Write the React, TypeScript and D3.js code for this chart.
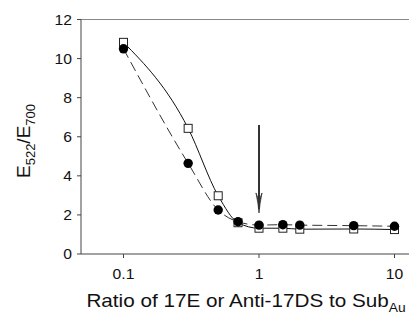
import React from "react";
import * as d3 from "d3";

const xValues = [0.1, 0.3, 0.5, 0.7, 1, 1.5, 2, 5, 10];
const squareValues = [10.83, 6.43, 2.98, 1.6, 1.32, 1.32, 1.27, 1.28, 1.25];
const circleValues = [10.5, 4.64, 2.25, 1.65, 1.48, 1.5, 1.48, 1.45, 1.42];
const xTicks = [0.1, 1, 10];
const xTickLabels = ["0.1", "1", "10"];
const yTicks = [0, 2, 4, 6, 8, 10, 12];
const arrowX = 1;
const arrowFromY = 6.6;
const arrowToY = 2.1;

const W = 409;
const H = 320;
const axisLeft = 81;
const axisRight = 409;

export default function App() {
  const x = d3.scaleLog().domain([0.1, 10]).range([123.5, 394.5]);
  const y = d3.scaleLinear().domain([0, 12]).range([254, 19.5]);
  const font = "'Liberation Sans', Arial, sans-serif";

  const sqPts: [number, number][] = xValues.map((v, i) => [x(v), y(squareValues[i])]);
  const ciPts: [number, number][] = xValues.map((v, i) => [x(v), y(circleValues[i])]);
  const lineGen = d3.line().curve(d3.curveMonotoneX);

  const ax = x(arrowX);
  const a0 = y(arrowFromY);
  const a1 = y(arrowToY);

  return (
    <svg width={W} height={H} style={{ position: "absolute", left: 0, top: 0 }} fontFamily={font}>
      <rect x={0} y={0} width={W} height={H} fill="#fff" />
      {/* top frame line */}
      <line x1={axisLeft} x2={axisRight} y1={y(12)} y2={y(12)} stroke="#888" strokeWidth={1} />
      {/* axes */}
      <line x1={axisLeft} x2={axisLeft} y1={y(12)} y2={y(0)} stroke="#444" strokeWidth={1} />
      <line x1={axisLeft} x2={axisRight} y1={y(0)} y2={y(0)} stroke="#444" strokeWidth={1} />
      {yTicks.map((t) => (
        <g key={t}>
          <line x1={axisLeft - 4} x2={axisLeft} y1={y(t)} y2={y(t)} stroke="#444" />
          <text
            transform={`translate(${axisLeft - 9},${y(t)}) scale(1.12,1)`}
            dy="0.36em"
            textAnchor="end"
            fontSize={14}
            fill="#111"
          >
            {t}
          </text>
        </g>
      ))}
      {xTicks.map((t, i) => (
        <g key={t}>
          <line x1={x(t)} x2={x(t)} y1={y(0)} y2={y(0) + 4} stroke="#444" />
          <text
            transform={`translate(${x(t)},${y(0) + 25}) scale(1.12,1)`}
            textAnchor="middle"
            fontSize={14}
            fill="#111"
          >
            {xTickLabels[i]}
          </text>
        </g>
      ))}
      {/* curves */}
      <path d={lineGen(ciPts) || ""} fill="none" stroke="#333" strokeWidth={1} strokeDasharray="10,5" />
      <path d={lineGen(sqPts) || ""} fill="none" stroke="#111" strokeWidth={1} />
      {/* markers */}
      {sqPts.map(([px, py], i) => (
        <rect key={"s" + i} x={px - 4} y={py - 4} width={8} height={8} fill="#fff" stroke="#222" strokeWidth={1} />
      ))}
      {ciPts.map(([px, py], i) => (
        <circle key={"c" + i} cx={px} cy={py} r={4.7} fill="#000" />
      ))}
      {/* arrow */}
      <line x1={ax} x2={ax} y1={a0} y2={a1 - 4} stroke="#333" strokeWidth={2} />
      <path
        d={`M${ax - 3},${a1 - 20} Q${ax - 0.5},${a1 - 8} ${ax},${a1} Q${ax + 0.5},${a1 - 8} ${ax + 3},${a1 - 20} L${ax},${a1 - 12} Z`}
        fill="#333"
        stroke="#333"
        strokeWidth={0.8}
      />
      {/* axis titles */}
      <text transform={`translate(246,307) scale(1.15,1)`} textAnchor="middle" fontSize={18} fill="#111">
        Ratio of 17E or Anti-17DS to Sub
        <tspan fontSize={12} dy={5}>Au</tspan>
      </text>
      <text transform={`translate(30,${141}) rotate(-90)`} textAnchor="middle" fontSize={19} fill="#111">
        E<tspan fontSize={13} dy={5}>522</tspan>
        <tspan dy={-5}>/E</tspan>
        <tspan fontSize={13} dy={5}>700</tspan>
      </text>
    </svg>
  );
}
